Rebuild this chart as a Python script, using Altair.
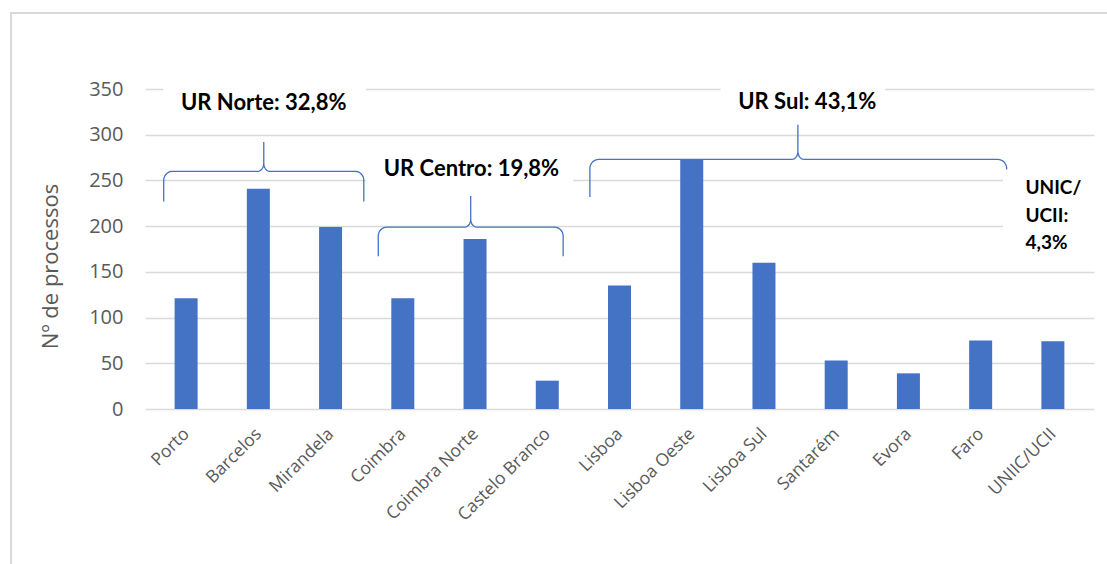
import json
import numpy as np
import pandas as pd
import altair as alt

# ---- data ----
categories = ["Porto", "Barcelos", "Mirandela", "Coimbra", "Coimbra Norte", "Castelo Branco",
              "Lisboa", "Lisboa Oeste", "Lisboa Sul", "Santarém", "Evora", "Faro", "UNIIC/UCII"]
values = [121, 241, 199, 121, 186, 31, 135, 273, 160, 53, 39, 75, 74]

# group braces: (name, start idx, end idx, middle idx, flat level, left end, right end, peak)
brace_names = ["Norte", "Centro", "Sul"]
brace_x0 = [-0.31, 2.66, 5.59]
brace_x1 = [2.46, 5.22, 11.36]
brace_xm = [1.075, 3.94, 8.47]
brace_flat = [260, 199, 273]
brace_left_end = [227, 167, 232]
brace_right_end = [227, 167, 262]
brace_peak = [292, 233, 311]

# annotation texts
label_texts = ["UR Norte: 32,8%", "UR Centro: 19,8%", "UR Sul: 43,1%"]
label_x = [1.075, 3.95, 8.60]
label_y = [335, 263, 336]
unic_lines = ["UNIC/", "UCII:", "4,3%"]
unic_x = [11.62, 11.62, 11.62]
unic_y = [242, 211, 182]

# white label boxes (hide gridlines behind text)
box_x = [-0.32, 2.49, 7.40, 11.31]
box_x2 = [2.49, 5.36, 9.68, 12.6]
box_y = [317, 229, 317, 155]
box_y2 = [359, 284, 359, 295]

# ---- layout ----
W, H = 949, 320
PX_X = W / 13.0
PX_Y = H / 350.0
BLUE = "#4472C4"
GREY = "#595959"
GRID = "#d9d9d9"

df = pd.DataFrame({"idx": list(range(len(categories))), "cat": categories, "val": values})


def brace_points(name, x0, x1, xm, yf, yl, yr, yp):
    rx, ry = 9 / PX_X, 9 / PX_Y
    rx2, ry2 = 6 / PX_X, 8 / PX_Y
    pts = [(x0, yl)]
    t = np.linspace(np.pi, np.pi / 2, 8)
    pts += [(x0 + rx + rx * np.cos(a), yf - ry + ry * np.sin(a)) for a in t]
    t = np.linspace(-np.pi / 2, 0, 8)
    pts += [(xm - rx2 + rx2 * np.cos(a), yf + ry2 + ry2 * np.sin(a)) for a in t]
    pts += [(xm, yp), (xm, yf + ry2)]
    t = np.linspace(np.pi, 3 * np.pi / 2, 8)
    pts += [(xm + rx2 + rx2 * np.cos(a), yf + ry2 + ry2 * np.sin(a)) for a in t]
    t = np.linspace(np.pi / 2, 0, 8)
    pts += [(x1 - rx + rx * np.cos(a), yf - ry + ry * np.sin(a)) for a in t]
    pts += [(x1, yr)]
    return [{"brace": name, "o": i, "bx": float(p[0]), "by": float(p[1])} for i, p in enumerate(pts)]


rows = []
for args in zip(brace_names, brace_x0, brace_x1, brace_xm, brace_flat,
                brace_left_end, brace_right_end, brace_peak):
    rows += brace_points(*args)
brace_df = pd.DataFrame(rows)

label_df = pd.DataFrame({"x": label_x, "y": label_y, "t": label_texts})
unic_df = pd.DataFrame({"x": unic_x, "y": unic_y, "t": unic_lines})
box_df = pd.DataFrame({"x": box_x, "x2": box_x2, "y": box_y, "y2": box_y2})

label_expr = json.dumps(categories) + "[datum.value]"

xscale = alt.Scale(domain=[-0.5, len(categories) - 0.5], nice=False, zero=False)
yscale = alt.Scale(domain=[0, 350], nice=False)

bars = alt.Chart(df).mark_bar(size=23, color=BLUE).encode(
    x=alt.X("idx:Q", scale=xscale, title=None,
            axis=alt.Axis(values=list(range(len(categories))), labelExpr=label_expr,
                          labelAngle=-45, labelAlign="right", labelBaseline="middle",
                          labelFont="Open Sans", labelFontSize=17.5, labelColor=GREY,
                          labelPadding=22, grid=False, ticks=False, domain=False,
                          labelOverlap=False, labelBound=False)),
    y=alt.Y("val:Q", scale=yscale,
            axis=alt.Axis(values=list(range(0, 351, 50)), title="Nº de processos",
                          titleFont="Open Sans", titleFontSize=22, titleFontWeight="normal",
                          titleColor=GREY, titleAngle=-90, titleX=-95, titleY=177,
                          titleAlign="center", titleBaseline="middle",
                          labelFont="Open Sans", labelFontSize=20, labelColor=GREY,
                          labelPadding=22, grid=True, gridColor=GRID, gridWidth=1.6,
                          ticks=False, domain=False)),
)

boxes = alt.Chart(box_df).mark_rect(color="white").encode(
    x=alt.X("x:Q", scale=xscale), x2="x2:Q",
    y=alt.Y("y:Q", scale=yscale), y2="y2:Q",
)

braces = alt.Chart(brace_df).mark_line(color=BLUE, strokeWidth=1.3).encode(
    x=alt.X("bx:Q", scale=xscale),
    y=alt.Y("by:Q", scale=yscale),
    detail="brace:N",
    order="o:Q",
)

labels = alt.Chart(label_df).mark_text(font="Lato", fontWeight="bold", fontSize=22,
                                       color="black", align="center", baseline="middle").encode(
    x=alt.X("x:Q", scale=xscale), y=alt.Y("y:Q", scale=yscale), text="t:N")

unic = alt.Chart(unic_df).mark_text(font="Lato", fontWeight="bold", fontSize=19,
                                    color="black", align="left", baseline="middle").encode(
    x=alt.X("x:Q", scale=xscale), y=alt.Y("y:Q", scale=yscale), text="t:N")

border_df = pd.DataFrame({"k": [0]})
border_left = alt.Chart(border_df).mark_rule(color=GRID, strokeWidth=2).encode(
    x=alt.value(-134), y=alt.value(-77), y2=alt.value(600))
border_top = alt.Chart(border_df).mark_rule(color=GRID, strokeWidth=2).encode(
    x=alt.value(-134), x2=alt.value(1100), y=alt.value(-76))

chart = alt.layer(bars, boxes, braces, labels, unic, border_left, border_top).properties(
    width=W, height=H,
    autosize=alt.AutoSizeParams(type="none"),
    padding={"left": 145, "top": 89, "right": 13, "bottom": 155},
    background="white",
).configure_view(stroke=None)

chart.save("out.html", embed_options={"renderer": "svg", "actions": False})
